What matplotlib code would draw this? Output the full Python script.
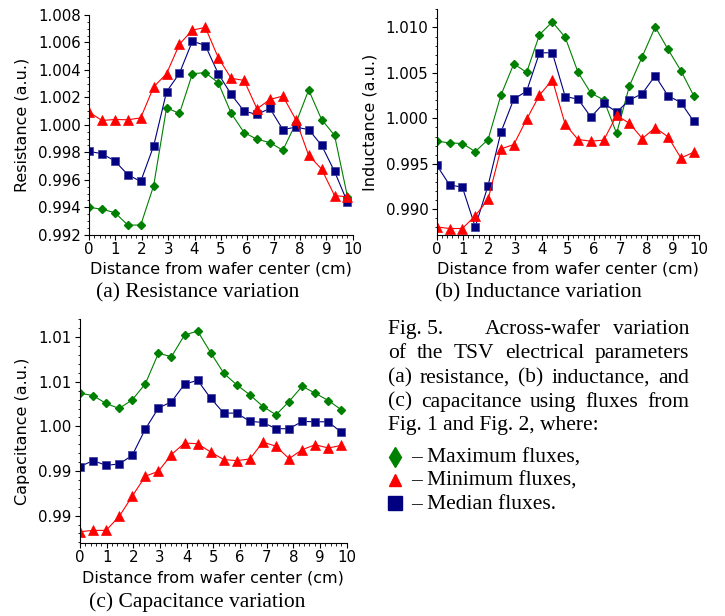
import matplotlib
matplotlib.use("Agg")
import matplotlib.pyplot as plt
from matplotlib.lines import Line2D
from matplotlib.ticker import MultipleLocator, FixedLocator

# distance from wafer center (cm)
dist = [0.0, 0.49, 0.98, 1.47, 1.96, 2.45, 2.94, 3.43, 3.92, 4.41, 4.90,
        5.39, 5.88, 6.37, 6.86, 7.35, 7.84, 8.33, 8.82, 9.31, 9.80]

res_max = [0.99400, 0.99385, 0.99361, 0.99270, 0.99270, 0.99556, 1.00124, 1.00083, 1.00373, 1.00380, 1.00307,
           1.00085, 0.99944, 0.99895, 0.99871, 0.99815, 1.00010, 1.00254, 1.00039, 0.99924, 0.99478]
res_min = [1.00093, 1.00032, 1.00039, 1.00037, 1.00051, 1.00276, 1.00373, 1.00588, 1.00690, 1.00710, 1.00490,
           1.00339, 1.00324, 1.00117, 1.00185, 1.00210, 1.00039, 0.99778, 0.99678, 0.99485, 0.99476]
res_med = [0.99807, 0.99790, 0.99737, 0.99637, 0.99588, 0.99846, 1.00241, 1.00376, 1.00610, 1.00578, 1.00373,
           1.00222, 1.00100, 1.00076, 1.00120, 0.99966, 0.99983, 0.99966, 0.99851, 0.99661, 0.99437]

ind_max = [0.99749, 0.99730, 0.99723, 0.99634, 0.99767, 1.00255, 1.00599, 1.00506, 1.00920, 1.01061, 1.00891,
           1.00506, 1.00277, 1.00203, 0.99834, 1.00358, 1.00680, 1.01005, 1.00758, 1.00525, 1.00248]
ind_min = [0.98806, 0.98788, 0.98788, 0.98928, 0.99109, 0.99664, 0.99712, 0.99989, 1.00255, 1.00425, 0.99933,
           0.99767, 0.99749, 0.99760, 1.00033, 0.99945, 0.99778, 0.99897, 0.99797, 0.99564, 0.99627]
ind_med = [0.99486, 0.99268, 0.99242, 0.98806, 0.99261, 0.99848, 1.00211, 1.00299, 1.00721, 1.00721, 1.00240,
           1.00211, 1.00015, 1.00166, 1.00070, 1.00200, 1.00273, 1.00469, 1.00248, 1.00174, 0.99967]

cap_max = [1.00372, 1.00346, 1.00257, 1.00201, 1.00298, 1.00477, 1.00819, 1.00782, 1.01024, 1.01069, 1.00827,
           1.00596, 1.00465, 1.00354, 1.00223, 1.00130, 1.00279, 1.00450, 1.00372, 1.00290, 1.00186]
cap_min = [0.98820, 0.98835, 0.98835, 0.98991, 0.99218, 0.99442, 0.99497, 0.99684, 0.99814, 0.99806, 0.99713,
           0.99628, 0.99617, 0.99635, 0.99825, 0.99777, 0.99639, 0.99739, 0.99795, 0.99758, 0.99788]
cap_med = [0.99550, 0.99617, 0.99564, 0.99579, 0.99676, 0.99970, 1.00205, 1.00276, 1.00473, 1.00517, 1.00316,
           1.00149, 1.00149, 1.00056, 1.00045, 0.99974, 0.99974, 1.00056, 1.00052, 1.00052, 0.99933]

cap_ticks = [0.990, 0.995, 1.000, 1.005, 1.010]
cap_ticklabels = ["0.99", "0.99", "1.00", "1.01", "1.01"]

caption_lines = [
    "of the TSV electrical parameters",
    "(a) resistance, (b) inductance, and",
    "(c) capacitance using fluxes from",
]
legend_labels = ["\u2013 Maximum fluxes,", "\u2013 Minimum fluxes,", "\u2013 Median fluxes."]

GREEN, RED, NAVY = "#008000", "#ff0000", "#000080"
SERIF = "Liberation Serif"
CAP_FS = 15.5

W, H = 725, 616
fig = plt.figure(figsize=(W / 100, H / 100), dpi=100)


def px(x, y):
    # pixel position (from top-left) -> figure fraction
    return x / W, 1 - y / H


def panel(rect, ymax, ymin, ymed, ylabel, ylim, ymajor, yminor):
    ax = fig.add_axes(rect)
    ax.plot(dist, ymax, color=GREEN, lw=0.8, marker="D", ms=4.4, mec=GREEN)
    ax.plot(dist, ymed, color=NAVY, lw=0.8, marker="s", ms=6.0, mec="#3a3a9a", mew=0.5)
    ax.plot(dist, ymin, color=RED, lw=0.8, marker="^", ms=6.8, mec=RED, mew=0.5)
    ax.set_xlim(0, 10)
    ax.set_ylim(*ylim)
    for s in ("top", "right"):
        ax.spines[s].set_visible(False)
    ax.xaxis.set_major_locator(MultipleLocator(1))
    ax.xaxis.set_minor_locator(MultipleLocator(0.2))
    ax.yaxis.set_major_locator(MultipleLocator(ymajor))
    ax.yaxis.set_minor_locator(MultipleLocator(yminor))
    ax.tick_params(which="major", direction="out", length=3.5, width=0.8, labelsize=10.8, pad=1.5)
    ax.tick_params(which="minor", direction="out", length=1.8, width=0.6)
    ax.tick_params(axis="y", which="major", pad=2.5)
    ax.set_xlabel("Distance from wafer center (cm)", fontsize=11.5, labelpad=3.8)
    ax.set_ylabel(ylabel, fontsize=11.5, labelpad=6)
    return ax


ax_a = panel([0.1228, 0.619, 0.3637, 0.3566], res_max, res_min, res_med,
             "Resistance (a.u.)", (0.992, 1.008), 0.002, 0.0005)
ax_a.yaxis.set_major_formatter(plt.FormatStrFormatter("%.3f"))

ax_b = panel([0.6023, 0.619, 0.3618, 0.366], ind_max, ind_min, ind_med,
             "Inductance (a.u.)", (0.9872, 1.0120), 0.005, 0.001)
ax_b.yaxis.set_major_formatter(plt.FormatStrFormatter("%.3f"))

ax_c = panel([0.1103, 0.118, 0.3679, 0.3636], cap_max, cap_min, cap_med,
             "Capacitance (a.u.)", (0.9869, 1.0120), 0.005, 0.001)
ax_c.yaxis.set_major_locator(FixedLocator(cap_ticks))
ax_c.set_yticklabels(cap_ticklabels)

# sub-captions
fig.text(*px(198, 297.5), "(a) Resistance variation", family=SERIF, fontsize=CAP_FS, ha="center", va="baseline")
fig.text(*px(538, 297.5), "(b) Inductance variation", family=SERIF, fontsize=CAP_FS, ha="center", va="baseline")
fig.text(*px(197, 607.5), "(c) Capacitance variation", family=SERIF, fontsize=CAP_FS, ha="center", va="baseline")

# figure caption, justified between two edges
left_px, right_px = 388, 689
fig.canvas.draw()
renderer = fig.canvas.get_renderer()

fig.text(*px(left_px, 334), "Fig. 5.", family=SERIF, fontsize=CAP_FS, va="baseline")
fig.text(*px(485, 334), "Across-wafer", family=SERIF, fontsize=CAP_FS, va="baseline")
fig.text(*px(right_px, 334), "variation", family=SERIF, fontsize=CAP_FS, va="baseline", ha="right")

for line, by in zip(caption_lines, [358.3, 382.7, 406.7]):
    words = line.split()
    texts = [fig.text(*px(0, by), w, family=SERIF, fontsize=CAP_FS, va="baseline") for w in words]
    widths = [t.get_window_extent(renderer).width for t in texts]
    gap = (right_px - left_px - sum(widths)) / (len(words) - 1)
    x = left_px
    for t, w in zip(texts, widths):
        t.set_x(x / W)
        x += w + gap
fig.text(*px(left_px, 430), "Fig. 1 and Fig. 2, where:", family=SERIF, fontsize=CAP_FS, va="baseline")

# marker key
keys = [("d", GREEN, 10), ("^", RED, 9), ("s", NAVY, 9.5)]
for (m, c, ms), lab, by in zip(keys, legend_labels, [462.7, 486, 509]):
    kx, ky = px(395, by - 6)
    fig.add_artist(Line2D([kx], [ky], marker=m, color=c, ms=ms, ls="none", transform=fig.transFigure))
    fig.text(*px(411, by), lab, family=SERIF, fontsize=CAP_FS, va="baseline")

fig.savefig("out.png", dpi=100)
